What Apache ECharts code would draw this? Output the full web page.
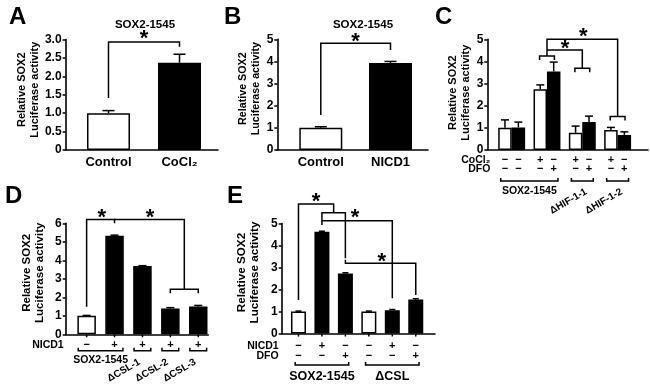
<!DOCTYPE html>
<html><head><meta charset="utf-8">
<script src="https://cdn.jsdelivr.net/npm/echarts@6/dist/echarts.min.js"></script>
<style>html,body{margin:0;padding:0;background:#fff}#c{width:650px;height:386px}</style>
</head><body><div id="c"></div>
<script>
// ================= DATA =================
// Panel A
const catsA = ['Control', 'CoCl₂'];
const valsA = [1.0, 2.37];
const errA  = [0.07, 0.23];
const bracketsA = [[[0, 1.41], [0, 2.93], [1, 2.93], [1, 2.80]]];
const starsA = [[0.5, 3.15]];

// Panel B
const catsB = ['Control', 'NICD1'];
const valsB = [1.0, 3.93];
const errB  = [0.05, 0.07];
const bracketsB = [[[0, 1.58], [0, 4.82], [1, 4.82], [1, 4.52]]];
const starsB = [[0.5, 5.1]];

// Panel C (bars in pairs: white = left, black = right)
const cocl2C = ['−', '−', '+', '−', '+', '−', '+', '−'];
const dfoC   = ['−', '−', '−', '+', '−', '+', '−', '+'];
const valsC  = [1.0, 1.02, 2.74, 3.55, 0.78, 1.27, 0.90, 0.68];
const errC   = [0.36, 0.24, 0.20, 0.42, 0.30, 0.26, 0.12, 0.14];
const groupsC = ['SOX2-1545', 'ΔHIF-1-1', 'ΔHIF-1-2'];
const groupSpanC = [[0, 3], [4, 5], [6, 7]];
const bracketsC = [
  [[0.79, 4.07], [0.79, 4.25], [1.21, 4.25], [1.21, 4.07]],
  [[1.79, 3.51], [1.79, 3.69], [2.21, 3.69], [2.21, 3.51]],
  [[2.79, 1.33], [2.79, 1.51], [3.21, 1.51], [3.21, 1.33]],
  [[1, 4.25], [1, 5.0], [3, 5.0], [3, 1.51]],
  [[1, 4.52], [2, 4.52], [2, 3.69]]
];
const starsC = [[2.03, 5.32], [1.51, 4.8]];

// Panel D
const nicd1D = ['−', '+', '+', '+', '+'];
const valsD  = [1.0, 5.33, 3.69, 1.40, 1.50];
const errD   = [0.02, 0.03, 0.02, 0.04, 0.06];
const groupsD = ['SOX2-1545', 'ΔCSL-1', 'ΔCSL-2', 'ΔCSL-3'];
const groupSpanD = [[0, 1], [2, 2], [3, 3], [4, 4]];
const bracketsD = [
  [[0, 1.49], [0, 6.2], [1, 6.2], [1, 6.0]],
  [[1, 6.2], [3.5, 6.2], [3.5, 2.43]],
  [[3, 2.22], [3, 2.43], [4, 2.43], [4, 2.22]]
];
const starsD = [[0.54, 6.56], [2.27, 6.56]];

// Panel E
const nicd1E = ['−', '+', '−', '−', '+', '−'];
const dfoE   = ['−', '−', '+', '−', '−', '+'];
const valsE  = [1.0, 4.62, 2.73, 1.0, 1.06, 1.55];
const errE   = [0.02, 0.03, 0.03, 0.02, 0.03, 0.03];
const groupsE = ['SOX2-1545', 'ΔCSL'];
const groupSpanE = [[0, 2], [3, 5]];
const bracketsE = [
  [[0, 1.52], [0, 5.89], [1.5, 5.89], [1.5, 5.49]],
  [[1, 4.93], [1, 5.49], [2, 5.49], [2, 3.42]],
  [[1, 5.13], [4, 5.13], [4, 1.6]],
  [[2, 3.35], [2, 3.19], [5, 3.19], [5, 1.75]]
];
const starsE = [[0.75, 6.22], [2.41, 5.46], [3.55, 3.49]];

const yTitle = 'Relative SOX2\nLuciferase activity';

// ================= CHART =================
const FONT = '"Liberation Sans", Arial, Helvetica, sans-serif';
const chart = echarts.init(document.getElementById('c'), null, { renderer: 'canvas' });

const idx = k => k;
const pairPos = k => Math.floor(k / 2) + (k % 2 ? 0.19 : -0.19);

const grids = [
  { left: 65.6, top: 39.5, width: 152.4, height: 110.5 },
  { left: 277.3, top: 39.3, width: 150.7, height: 110.7 },
  { left: 487.3, top: 39.3, width: 160.7, height: 110.7 },
  { left: 65.7, top: 223.3, width: 142.6, height: 111 },
  { left: 281.7, top: 223.5, width: 153.3, height: 110 }
];
const xRange = [[-0.604, 1.542], [-0.624, 1.538], [-0.69, 3.86], [-0.75, 4.36], [-0.715, 5.82]];
const yRange = [[0, 3, 0.5], [0, 5, 1], [0, 5, 1], [0, 6, 1], [0, 5, 1]];
const nameCfg = [
  { gap: 22, size: 11, pad: 10 },
  { gap: 10, size: 10.7, pad: 12 },
  { gap: 15, size: 11, pad: 4 },
  { gap: 19, size: 11.5, pad: 12 },
  { gap: 20, size: 11.7, pad: 12 }
];

const xAxes = xRange.map((r, i) => ({
  type: 'value', gridIndex: i, min: r[0], max: r[1],
  axisLine: { show: true, onZero: false, lineStyle: { color: '#000', width: 1.6 } },
  axisTick: { show: false }, axisLabel: { show: false }, splitLine: { show: false }
}));
const yAxes = yRange.map((r, i) => ({
  type: 'value', gridIndex: i, min: r[0], max: r[1], interval: r[2],
  name: yTitle, nameLocation: 'middle', nameGap: nameCfg[i].gap,
  nameTextStyle: { fontFamily: FONT, fontWeight: 'bold', fontSize: nameCfg[i].size, color: '#000',
    lineHeight: 13, padding: [0, 0, 0, nameCfg[i].pad] },
  axisLine: { show: true, onZero: false, lineStyle: { color: '#000', width: 1.6 } },
  axisTick: { show: true, inside: false, length: 3, lineStyle: { color: '#000', width: 1.5 } },
  axisLabel: { color: '#000', fontFamily: FONT, fontWeight: 'bold', fontSize: 12, margin: 4,
    formatter: v => (i === 0 ? (v === 0 ? '0' : v.toFixed(1)) : String(v)) },
  splitLine: { show: false }
}));

function barSeries(i, vals, pos, width, colorOf) {
  return {
    type: 'bar', xAxisIndex: i, yAxisIndex: i, barWidth: width, silent: true,
    data: vals.map((v, k) => ({ value: [pos(k), v],
      itemStyle: { color: colorOf(k), borderColor: '#000', borderWidth: 1.5 } })),
    z: 2
  };
}
function errSeries(i, vals, errs, pos, capHalf) {
  return {
    type: 'custom', xAxisIndex: i, yAxisIndex: i, silent: true, z: 3,
    data: vals.map((v, k) => [pos(k), v, errs[k]]),
    renderItem: (params, api) => {
      const x = api.value(0), v = api.value(1), e = api.value(2);
      const p0 = api.coord([x, v]), p1 = api.coord([x, v + e]);
      const st = { stroke: '#000', lineWidth: 1.5 };
      return { type: 'group', children: [
        { type: 'line', shape: { x1: p0[0], y1: p0[1], x2: p1[0], y2: p1[1] }, style: st },
        { type: 'line', shape: { x1: p1[0] - capHalf, y1: p1[1], x2: p1[0] + capHalf, y2: p1[1] }, style: st }
      ] };
    }
  };
}
function annotSeries(i, cfg) {
  return {
    type: 'custom', xAxisIndex: i, yAxisIndex: i, silent: true, z: 4,
    data: [[0, 0]],
    renderItem: (params, api) => {
      const ch = [];
      const line = pts => ch.push({ type: 'polyline', shape: { points: pts },
        style: { stroke: '#000', lineWidth: 1.5, fill: null } });
      const text = (t, x, y, st, rot) => ch.push({ type: 'text', x, y, rotation: rot || 0,
        style: Object.assign({ text: t, fill: '#000', fontFamily: FONT, fontWeight: 'bold',
          fontSize: 11, align: 'center', verticalAlign: 'middle' }, st || {}) });
      const base = api.coord([xRange[i][0], 0]);
      const axisX = base[0], axisY = base[1];
      const px = k => api.coord([cfg.pos(k), 0])[0];
      (cfg.brackets || []).forEach(b => line(b.map(p => api.coord(p))));
      (cfg.stars || []).forEach(s => { const p = api.coord(s); text('*', p[0], p[1] + 5, { fontSize: 22 }); });
      (cfg.cats || []).forEach((c, k) => text(c, px(k), axisY + cfg.catDy, { fontSize: 13 }));
      if (cfg.ticks) cfg.rows[0].signs.forEach((s, k) => line([[px(k), axisY], [px(k), axisY + 3]]));
      (cfg.rows || []).forEach(r => {
        text(r.label, axisX + cfg.rowLabelDx, axisY + r.dy, { align: 'right', fontSize: cfg.rowLabelSize });
        r.signs.forEach((s, k) => text(s, px(k), axisY + r.dy, { fontSize: cfg.signSize }));
      });
      if (cfg.groups) {
        const g = cfg.groups;
        g.names.forEach((name, gi) => {
          const a = g.spans[gi][0], b = g.spans[gi][1];
          const x1 = api.coord([cfg.pos(a) - g.ext, 0])[0];
          const x2 = api.coord([cfg.pos(b) + g.ext, 0])[0];
          const y = axisY + g.lineDy;
          line([[x1, y - g.legH], [x1, y], [x2, y], [x2, y - g.legH]]);
          const cx = (x1 + x2) / 2;
          if (gi >= g.rotFrom) {
            text(name, cx + g.rotDx, axisY + g.rotDy, { align: 'right', fontSize: g.rotSize }, Math.PI / 6);
          } else {
            text(name, cx, axisY + g.labelDy, { fontSize: g.size });
          }
        });
      }
      return { type: 'group', children: ch };
    }
  };
}

const white = '#ffffff', black = '#000000';
const series = [
  barSeries(0, valsA, idx, 43, k => (k === 0 ? white : black)),
  errSeries(0, valsA, errA, idx, 6),
  annotSeries(0, { pos: idx, brackets: bracketsA, stars: starsA, cats: catsA, catDy: 12 }),

  barSeries(1, valsB, idx, 43, k => (k === 0 ? white : black)),
  errSeries(1, valsB, errB, idx, 6),
  annotSeries(1, { pos: idx, brackets: bracketsB, stars: starsB, cats: catsB, catDy: 12 }),

  barSeries(2, valsC, pairPos, 13.5, k => (k % 2 === 0 ? white : black)),
  errSeries(2, valsC, errC, pairPos, 4),
  annotSeries(2, { pos: pairPos, brackets: bracketsC, stars: starsC,
    rows: [{ label: 'CoCl₂', signs: cocl2C, dy: 10 }, { label: 'DFO', signs: dfoC, dy: 19 }],
    rowLabelDx: 3, rowLabelSize: 10.5, signSize: 11,
    groups: { names: groupsC, spans: groupSpanC, ext: 0.12, lineDy: 31, legH: 3, labelDy: 41.5, size: 10.5,
      rotFrom: 1, rotDx: 4, rotDy: 41, rotSize: 10 } }),

  barSeries(3, valsD, idx, 18.5, k => (k === 0 ? white : black)),
  errSeries(3, valsD, errD, idx, 4),
  annotSeries(3, { pos: idx, brackets: bracketsD, stars: starsD, ticks: true,
    rows: [{ label: 'NICD1', signs: nicd1D, dy: 10.5 }],
    rowLabelDx: -2, rowLabelSize: 10.5, signSize: 11,
    groups: { names: groupsD, spans: groupSpanD, ext: 0.3, lineDy: 16.5, legH: 3, labelDy: 26, size: 10.5,
      rotFrom: 1, rotDx: -3, rotDy: 27, rotSize: 10 } }),

  barSeries(4, valsE, idx, 15, k => (nicd1E[k] === '−' && dfoE[k] === '−' ? white : black)),
  errSeries(4, valsE, errE, idx, 3),
  annotSeries(4, { pos: idx, brackets: bracketsE, stars: starsE, ticks: true,
    rows: [{ label: 'NICD1', signs: nicd1E, dy: 12.4 }, { label: 'DFO', signs: dfoE, dy: 22.4 }],
    rowLabelDx: -3, rowLabelSize: 10.5, signSize: 11,
    groups: { names: groupsE, spans: groupSpanE, ext: 0.14, lineDy: 31.5, legH: 3, labelDy: 43.3, size: 12.5,
      rotFrom: 99, rotDx: 0, rotDy: 0, rotSize: 10 } })
];

const letter = (t, x, y) => ({ type: 'text', x, y,
  style: { text: t, fill: '#000', fontFamily: FONT, fontWeight: 'bold', fontSize: 24, align: 'left', verticalAlign: 'middle' } });
const title = (t, x, y) => ({ type: 'text', x, y,
  style: { text: t, fill: '#000', fontFamily: FONT, fontWeight: 'bold', fontSize: 11.5, align: 'center', verticalAlign: 'middle' } });

chart.setOption({
  animation: false,
  backgroundColor: '#ffffff',
  grid: grids,
  xAxis: xAxes,
  yAxis: yAxes,
  series,
  graphic: [
    letter('A', 9, 17), letter('B', 224, 17), letter('C', 435, 17),
    letter('D', 5, 196), letter('E', 227, 196),
    title('SOX2-1545', 145, 25), title('SOX2-1545', 363, 25)
  ]
});
</script></body></html>
